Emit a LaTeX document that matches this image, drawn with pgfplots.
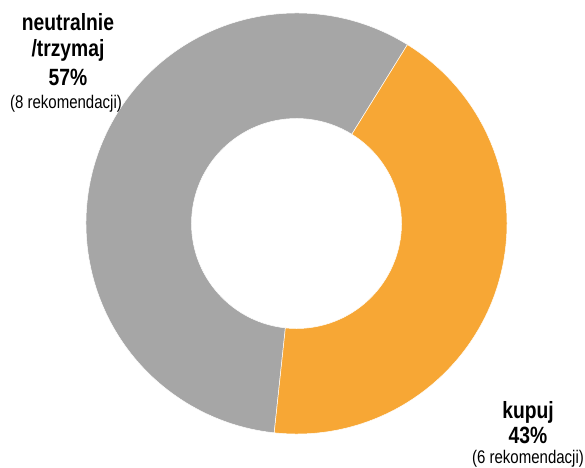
\documentclass[border=0pt]{standalone}
\usepackage{pgfplots}
\pgfplotsset{compat=1.18}
\usepackage{pgfplotstable}
\usepackage{fontspec}
\setmainfont{Liberation Sans}[FakeStretch=0.82]

\definecolor{kup}{HTML}{F7A735}
\definecolor{trz}{HTML}{A6A6A6}

\pgfplotstableread{
label count
kupuj 6
trzymaj 8
}\rekom

\pgfplotstablegetelem{0}{count}\of\rekom \let\nkup\pgfplotsretval
\pgfplotstablegetelem{1}{count}\of\rekom \let\ntrz\pgfplotsretval

% donut geometry (axis units = pt)
\def\cx{296.5}\def\cy{243.5}\def\Ro{210.5}\def\Ri{105}
\pgfmathsetmacro\aA{58.2}
\pgfmathsetmacro\aB{\aA-360*\nkup/(\nkup+\ntrz)}
\pgfmathsetmacro\aC{\aA-360}

% annular sector from angle #1 to #2
\newcommand\ring[3]{%
  \pgfmathsetmacro\pxo{\cx+\Ro*cos(#1)}\pgfmathsetmacro\pyo{\cy+\Ro*sin(#1)}%
  \pgfmathsetmacro\pxi{\cx+\Ri*cos(#2)}\pgfmathsetmacro\pyi{\cy+\Ri*sin(#2)}%
  \edef\tmp{\noexpand\fill[#3, draw=white, line width=0.5pt]
    (axis cs:\pxo,\pyo) arc[start angle=#1, end angle=#2, radius=\Ro pt]
    -- (axis cs:\pxi,\pyi) arc[start angle=#2, end angle=#1, radius=\Ri pt] -- cycle;}%
  \tmp}

\begin{document}
\begin{tikzpicture}
\begin{axis}[
    x=1pt, y=1pt,
    xmin=0, xmax=585, ymin=0, ymax=467,
    hide axis, clip=false,
]
\coordinate (sw) at (axis cs:0,0);
\coordinate (ne) at (axis cs:585,467);
\ring{\aC}{\aB}{trz}
\ring{\aB}{\aA}{kup}

\begin{scope}[every node/.style={anchor=base, inner sep=0pt}]
\node[font=\fontsize{23.5}{26}\selectfont\bfseries] at (axis cs:68,436) {neutralnie};
\node[font=\fontsize{23.5}{26}\selectfont\bfseries] at (axis cs:68,410) {/trzymaj};
\node[font=\fontsize{23.5}{26}\selectfont\bfseries] at (axis cs:68,382) {57\%};
\node[font=\fontsize{18.3}{20}\selectfont] at (axis cs:66,359) {(8 rekomendacji)};

\node[font=\fontsize{23.5}{26}\selectfont\bfseries] at (axis cs:528,49) {kupuj};
\node[font=\fontsize{23.5}{26}\selectfont\bfseries] at (axis cs:528,24) {43\%};
\node[font=\fontsize{18.3}{20}\selectfont] at (axis cs:528,4) {(6 rekomendacji)};
\end{scope}
\end{axis}
\pgfresetboundingbox
\path[use as bounding box] (sw) rectangle (ne);
\end{tikzpicture}
\end{document}
